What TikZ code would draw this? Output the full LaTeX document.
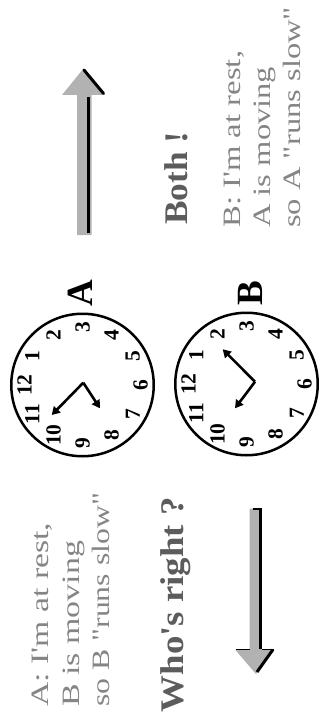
\documentclass[tikz,border=0pt]{standalone}
\usepackage{fontspec}
\setmainfont{Liberation Serif}
\usepackage{graphicx}
\usetikzlibrary{arrows.meta}
\definecolor{txtgray}{gray}{0.52}
\definecolor{boldgray}{gray}{0.36}
\definecolor{arrowgray}{gray}{0.70}
\newcommand{\fitw}[2]{\resizebox{#1pt}{\height}{#2}}
\begin{document}
\begin{tikzpicture}[x=1pt,y=-1pt,
  txt/.style={rotate=90, anchor=base west, inner sep=0pt, text=txtgray, font=\fontsize{25}{30}\selectfont},
  boldtxt/.style={rotate=90, anchor=base west, inner sep=0pt, text=boldgray, font=\fontsize{33}{38}\selectfont\bfseries},
  clocklbl/.style={rotate=90, inner sep=0pt, font=\fontsize{37}{40}\selectfont\bfseries},
  num/.style={rotate=90, inner sep=0pt, font=\fontsize{21.5}{24}\selectfont\bfseries},
  face/.style={circle, draw, line width=2.5pt, minimum size=142.5pt, inner sep=0pt},
  hand/.style={line width=2.6pt, -{Triangle[length=8pt,width=9pt]}},
  shade/.style={draw=black, line width=3pt},
  ]
\useasboundingbox (0,0) rectangle (320,719);

% left statements
\node[txt] (a1) at (48.5,707) {\fitw{184}{A: I\textquotesingle m at rest,}};
\node[txt] (a2) at (79.5,707) {\fitw{166}{B is moving}};
\node[txt] (a3) at (109.5,707) {\fitw{214}{so B \textquotedbl runs slow\textquotedbl}};
\node[boldtxt] (who) at (183,712.5) {\fitw{215}{Who\textquotesingle s right ?}};

% right statements
\node[txt] (b1) at (240,228) {\fitw{177}{B: I\textquotesingle m at rest,}};
\node[txt] (b2) at (270,228) {\fitw{161}{A is moving}};
\node[txt] (b3) at (300,228) {\fitw{221}{so A \textquotedbl runs slow\textquotedbl}};
\node[boldtxt] (both) at (187,225) {\fitw{93}{Both !}};

% clocks
\node[face] (clockA) at (82.5,385) {};
\node[face] (clockB) at (246.5,384) {};
\foreach \h in {1,...,12} {
  \node[num] (nA\h) at ([shift={(30*\h-180:58)}]clockA.center) {\h};
  \node[num] (nB\h) at ([shift={(30*\h-180:58)}]clockB.center) {\h};
}
\node[clocklbl] (lblA) at (80.5,293) {A};
\node[clocklbl] (lblB) at (250.5,293.5) {B};

% hands
\coordinate (hubA) at (83.3,382.7);
\coordinate (tipA1) at (51.7,415);
\coordinate (tipA2) at (100,408.3);
\draw[hand] (hubA) -- (tipA1);
\draw[hand] (hubA) -- (tipA2);
\coordinate (hubB) at (255,381.7);
\coordinate (tipB1) at (222.7,349.3);
\coordinate (tipB2) at (235,408.3);
\draw[hand] (hubB) -- (tipB1);
\draw[hand] (hubB) -- (tipB2);

% up arrow
\fill[arrowgray] (77,235) -- (77,95) -- (62,95) -- (83.5,68.5) -- (105,95) -- (91.5,95) -- (91.5,235) -- cycle;
\draw[shade] (88,233) -- (88,97);
\draw[shade, line cap=round] (84,70) -- (103.5,93.5);

% down arrow
\fill[arrowgray] (249.5,508.5) -- (249.5,649.5) -- (235,649.5) -- (256,674) -- (274,649.5) -- (261.5,649.5) -- (261.5,508.5) -- cycle;
\draw[shade, line width=2.5pt] (253,509) -- (260.3,509) -- (260.3,649);
\draw[shade] (273,649.5) -- (257,672);
\draw[draw=black, line width=1.5pt] (236,649.5) -- (249.5,649.5);
\draw[draw=black, line width=1.5pt] (261.5,649.5) -- (273.5,649.5);
\end{tikzpicture}
\end{document}
